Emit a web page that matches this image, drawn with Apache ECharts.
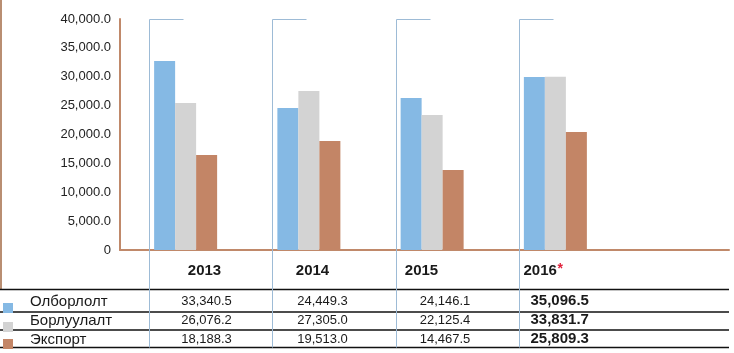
<!DOCTYPE html>
<html>
<head>
<meta charset="utf-8">
<script src="https://cdn.jsdelivr.net/npm/echarts@6/dist/echarts.min.js"></script>
<style>
html,body{margin:0;padding:0;background:#fff}
#chart{width:734px;height:353px}
</style>
</head>
<body>
<div id="chart"></div>
<script>
// categories and series
var years = ['2013', '2014', '2015', '2016'];
var yearNotes = ['', '', '', '*'];
var seriesNames = ['Олборлолт', 'Борлуулалт', 'Экспорт'];
// bar heights as drawn in the picture
var extraction = [32730, 24590, 26320, 29960];
var sales = [25450, 27530, 23380, 30000];
var exportVals = [16450, 18870, 13850, 20430];
// values printed in the table under the chart
var extractionText = ['33,340.5', '24,449.3', '24,146.1', '35,096.5'];
var salesText = ['26,076.2', '27,305.0', '22,125.4', '33,831.7'];
var exportText = ['18,188.3', '19,513.0', '14,467.5', '25,809.3'];
// y axis
var yMin = 0, yMax = 40000, yStep = 5000;

var colors = ['#85B9E4', '#D3D3D3', '#C38566'];
var brown = '#C0896A';
var sepColor = '#9DBBD6';
var font = '"Liberation Sans", Arial, sans-serif';

// table layout (offsets from the left edge of each column)
var yearOffset = [55, 40, 25, 4];
var valOffset = [57, 50, 48.5, 11];
var colAlign = ['center', 'center', 'center', 'left'];
var colBold = [false, false, false, true];
var rowLines = [289.5, 312, 330, 347.5];
var rowMid = [301, 320, 339];
var tableText = [extractionText, salesText, exportText];

var myChart = echarts.init(document.getElementById('chart'));

var option = {
    animation: false,
    grid: [
        {left: 120, right: 5, top: 19, height: 231},
        {left: 149, width: 493, top: 19, height: 231}
    ],
    xAxis: [
        {
            type: 'value', gridIndex: 0, min: 0, max: 1,
            axisLine: {show: true, lineStyle: {color: brown, width: 2}},
            axisTick: {show: false},
            axisLabel: {show: false},
            splitLine: {show: false}
        },
        {
            type: 'category', gridIndex: 1, data: years, show: false
        }
    ],
    yAxis: [
        {
            type: 'value', gridIndex: 0, min: yMin, max: yMax, interval: yStep,
            axisLine: {show: true, lineStyle: {color: brown, width: 2}},
            axisTick: {show: false},
            splitLine: {show: false},
            axisLabel: {
                margin: 9,
                color: '#222',
                fontSize: 13,
                fontFamily: font,
                formatter: function (v) {
                    if (v === 0) return '0';
                    return v.toLocaleString('en-US', {minimumFractionDigits: 1});
                }
            }
        },
        {
            type: 'value', gridIndex: 1, min: yMin, max: yMax, show: false
        }
    ],
    series: [
        {
            name: seriesNames[0], type: 'bar', xAxisIndex: 1, yAxisIndex: 1,
            barWidth: 21, barGap: '0%', data: extraction,
            itemStyle: {color: colors[0]}
        },
        {
            name: seriesNames[1], type: 'bar', xAxisIndex: 1, yAxisIndex: 1,
            barWidth: 21, barGap: '0%', data: sales,
            itemStyle: {color: colors[1]}
        },
        {
            name: seriesNames[2], type: 'bar', xAxisIndex: 1, yAxisIndex: 1,
            barWidth: 21, barGap: '0%', data: exportVals,
            itemStyle: {color: colors[2]}
        },
        {
            // empty spacer so the bar group sits at the left of each column
            name: 'pad', type: 'bar', xAxisIndex: 1, yAxisIndex: 1,
            barWidth: 50, barGap: '0%', silent: true,
            data: ['-', '-', '-', '-']
        },
        {
            // column separators and the data table
            type: 'custom', xAxisIndex: 1, yAxisIndex: 1, silent: true,
            data: years.map(function (y, i) { return [i, 0]; }),
            encode: {x: 0, y: 1},
            renderItem: function (params, api) {
                var i = params.dataIndex;
                var band = api.size([1, 0])[0];
                var top = api.coord([i, yMax]);
                var left = Math.round(top[0] - band / 2) + 0.5;
                var y0 = Math.round(top[1]) + 0.5;
                var kids = [
                    {type: 'line', shape: {x1: left, y1: y0, x2: left, y2: rowLines[3]},
                        style: {stroke: sepColor, lineWidth: 1}},
                    {type: 'line', shape: {x1: left, y1: y0, x2: left + 34, y2: y0},
                        style: {stroke: sepColor, lineWidth: 1}}
                ];
                var yx = left + yearOffset[i];
                kids.push({type: 'text', style: {
                    text: years[i], x: yx, y: 270.5, align: colAlign[i], verticalAlign: 'middle',
                    fill: '#1a1a1a', font: 'bold 15px ' + font
                }});
                if (yearNotes[i]) {
                    kids.push({type: 'text', style: {
                        text: yearNotes[i], x: yx + 34, y: 269, align: 'left', verticalAlign: 'middle',
                        fill: '#E0203A', font: 'bold 14px ' + font
                    }});
                }
                for (var r = 0; r < tableText.length; r++) {
                    kids.push({type: 'text', style: {
                        text: tableText[r][i], x: left + valOffset[i], y: rowMid[r],
                        align: colAlign[i], verticalAlign: 'middle', fill: '#1a1a1a',
                        font: (colBold[i] ? 'bold 15px ' : '13px ') + font
                    }});
                }
                return {type: 'group', children: kids};
            }
        }
    ],
    graphic: []
};

// left border, table lines and row names
var g = [];
g.push({type: 'line', shape: {x1: 1, y1: 0, x2: 1, y2: rowLines[0]}, style: {stroke: '#B98E72', lineWidth: 2}});
rowLines.forEach(function (y) {
    g.push({type: 'line', shape: {x1: 0, y1: y, x2: 729, y2: y}, style: {stroke: '#111', lineWidth: 1.5}});
});
var swatchY = [303, 322, 339];
seriesNames.forEach(function (n, k) {
    g.push({type: 'rect', shape: {x: 3, y: swatchY[k], width: 10, height: 10}, style: {fill: colors[k]}});
    g.push({type: 'text', style: {text: n, x: 30, y: rowMid[k] + 1, verticalAlign: 'middle',
        fill: '#1a1a1a', font: '15px ' + font}});
});
option.graphic = g;

myChart.setOption(option);
</script>
</body>
</html>
